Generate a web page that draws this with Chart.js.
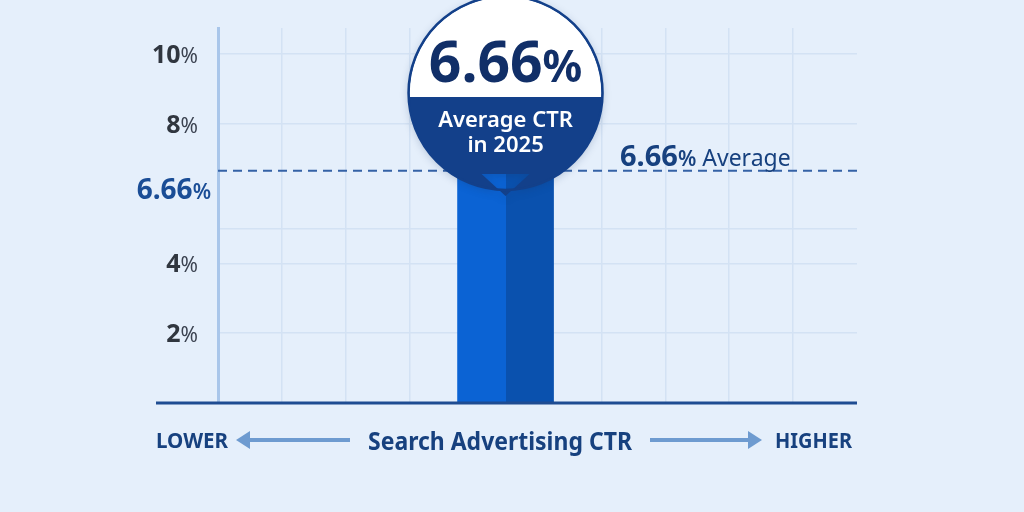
<!DOCTYPE html>
<html>
<head>
<meta charset="utf-8">
<script src="https://cdn.jsdelivr.net/npm/chart.js@4.4.1/dist/chart.umd.min.js"></script>
<style>
  html, body { margin: 0; padding: 0; background: #e5effb; }
  #wrap { width: 1024px; height: 512px; }
</style>
</head>
<body>
<div id="wrap"><canvas id="ctrChart" width="1024" height="512"></canvas></div>
<script>
// ==================== DATOS ====================
const categories   = ['', '', '', '', 'Average CTR in 2025', '', '', '', '', ''];
const ctrValues    = [null, null, null, null, 6.66, null, null, null, null, null];
const averageCtr   = 6.66;
const yTickLabels  = [2, 4, 8, 10];
const yGridValues  = [2, 4, 5, 8, 10];
const bubbleTitle  = ['Average CTR', 'in 2025'];
const axisTitle    = 'Search Advertising CTR';
const lowLabel     = 'LOWER';
const highLabel    = 'HIGHER';

// ==================== ESTILO ====================
const FONT      = '"Noto Sans", "Open Sans", sans-serif';
const BG        = '#e5effb';
const GRID      = '#d3e2f4';
const NAVY      = '#13408a';
const NAVY_TEXT = '#17417f';
const BAR_LEFT  = '#0b63d4';
const BAR_RIGHT = '#0a51ae';
const ARROW     = '#6e9bd0';

// texto con partes de distinto peso (número en negrita, % más ligero)
function drawParts(ctx, parts, x, y, align) {
  let total = 0;
  parts.forEach(p => { ctx.font = p.font; p.w = ctx.measureText(p.text).width; total += p.w; });
  let cx = align === 'right' ? x - total : align === 'center' ? x - total / 2 : x;
  ctx.textAlign = 'left';
  ctx.textBaseline = 'alphabetic';
  parts.forEach(p => {
    ctx.font = p.font;
    ctx.fillStyle = p.color;
    ctx.fillText(p.text, cx, y);
    cx += p.w;
  });
}

function drawArrow(ctx, x1, x2, y) {
  const dir = Math.sign(x2 - x1);
  ctx.strokeStyle = ARROW;
  ctx.fillStyle = ARROW;
  ctx.lineWidth = 4;
  ctx.beginPath();
  ctx.moveTo(x1, y);
  ctx.lineTo(x2 - dir * 10, y);
  ctx.stroke();
  ctx.beginPath();
  ctx.moveTo(x2, y);
  ctx.lineTo(x2 - dir * 14, y - 9);
  ctx.lineTo(x2 - dir * 14, y + 9);
  ctx.closePath();
  ctx.fill();
}

const ctrOverlay = {
  id: 'ctrOverlay',
  beforeDraw(chart) {
    const { ctx, width, height } = chart;
    ctx.save();
    ctx.fillStyle = BG;
    ctx.fillRect(0, 0, width, height);
    ctx.restore();
  },
  afterDatasetsDraw(chart) {
    const { ctx, chartArea, scales } = chart;
    const yAvg = scales.y.getPixelForValue(averageCtr);
    const y0   = scales.y.getPixelForValue(0);
    const barIndex = ctrValues.findIndex(v => v !== null);
    const bar  = chart.getDatasetMeta(0).data[barIndex];
    const cx   = bar.x;

    ctx.save();

    // línea promedio punteada
    ctx.strokeStyle = '#3462a6';
    ctx.lineWidth = 2;
    ctx.setLineDash([9, 6]);
    ctx.beginPath();
    ctx.moveTo(chartArea.left, yAvg);
    ctx.lineTo(chartArea.right, yAvg);
    ctx.stroke();
    ctx.setLineDash([]);

    // línea base
    ctx.strokeStyle = '#1e4c92';
    ctx.lineWidth = 3;
    ctx.beginPath();
    ctx.moveTo(156, y0);
    ctx.lineTo(chartArea.right, y0);
    ctx.stroke();

    // etiquetas eje Y
    yTickLabels.forEach(v => {
      const py = scales.y.getPixelForValue(v);
      drawParts(ctx, [
        { text: String(v), font: `700 25px ${FONT}`, color: '#30363f' },
        { text: '%',       font: `400 21px ${FONT}`, color: '#3b4250' }
      ], 198, py + 9, 'right');
    });
    drawParts(ctx, [
      { text: averageCtr.toFixed(2), font: `700 28px ${FONT}`, color: '#1a4d96' },
      { text: '%',                   font: `600 21px ${FONT}`, color: '#1a4d96' }
    ], 211, yAvg + 28, 'right');

    // etiqueta del promedio
    drawParts(ctx, [
      { text: averageCtr.toFixed(2), font: `700 29px ${FONT}`, color: NAVY_TEXT },
      { text: '%',                   font: `600 21px ${FONT}`, color: NAVY_TEXT },
      { text: ' Average',            font: `400 23px ${FONT}`, color: NAVY_TEXT }
    ], 620, yAvg - 5, 'left');

    // burbuja
    const r = 97, cy = chartArea.top + 65, tipY = cy + r + 6;
    const shape = () => {
      ctx.beginPath();
      ctx.arc(cx, cy, r, 0, Math.PI * 2);
      ctx.moveTo(cx - 24, cy + r - 16);
      ctx.lineTo(cx, tipY);
      ctx.lineTo(cx + 24, cy + r - 16);
      ctx.closePath();
    };
    ctx.save();
    ctx.shadowColor = 'rgba(20, 50, 100, 0.25)';
    ctx.shadowBlur = 8;
    ctx.shadowOffsetY = 2;
    ctx.fillStyle = NAVY;
    shape();
    ctx.fill();
    ctx.restore();

    ctx.save();
    ctx.beginPath();
    ctx.arc(cx, cy, r - 1, 0, Math.PI * 2);
    ctx.clip();
    ctx.fillStyle = '#ffffff';
    ctx.fillRect(cx - r, cy - r, r * 2, r + 4);
    ctx.restore();

    ctx.strokeStyle = NAVY;
    ctx.lineWidth = 2.5;
    ctx.beginPath();
    ctx.arc(cx, cy, r, 0, Math.PI * 2);
    ctx.stroke();

    drawParts(ctx, [
      { text: averageCtr.toFixed(2), font: `700 57px ${FONT}`, color: '#112f68' },
      { text: '%',                   font: `700 44px ${FONT}`, color: '#112f68' }
    ], cx, cy - 11, 'center');

    ctx.fillStyle = '#ffffff';
    ctx.font = `600 22px ${FONT}`;
    ctx.textAlign = 'center';
    ctx.fillText(bubbleTitle[0], cx, cy + 34);
    ctx.fillText(bubbleTitle[1], cx, cy + 59);

    // rótulos inferiores
    ctx.fillStyle = NAVY_TEXT;
    ctx.textBaseline = 'alphabetic';
    ctx.font = `700 22px ${FONT}`;
    ctx.textAlign = 'left';
    ctx.fillText(lowLabel, 156, 448, 72);
    ctx.textAlign = 'right';
    ctx.fillText(highLabel, 852, 448, 77);
    ctx.textAlign = 'center';
    ctx.font = `700 25px ${FONT}`;
    ctx.fillText(axisTitle, 500, 450, 264);

    drawArrow(ctx, 350, 236, 440);
    drawArrow(ctx, 650, 762, 440);

    ctx.restore();
  }
};

new Chart(document.getElementById('ctrChart'), {
  type: 'bar',
  data: {
    labels: categories,
    datasets: [{
      label: 'Search Advertising CTR',
      data: ctrValues,
      barThickness: 96,
      borderWidth: 0,
      backgroundColor: (c) => {
        const xs = c.chart.scales.x;
        if (!xs || !c.chart.chartArea) return BAR_LEFT;
        const px = xs.getPixelForValue(c.dataIndex);
        const g = c.chart.ctx.createLinearGradient(px - 48, 0, px + 48, 0);
        g.addColorStop(0, BAR_LEFT);
        g.addColorStop(0.5, BAR_LEFT);
        g.addColorStop(0.5, BAR_RIGHT);
        g.addColorStop(1, BAR_RIGHT);
        return g;
      }
    }]
  },
  options: {
    responsive: false,
    animation: false,
    layout: { padding: { left: 218, right: 167, top: 28, bottom: 109 } },
    plugins: {
      legend: { display: false },
      tooltip: { enabled: false }
    },
    scales: {
      x: {
        offset: true,
        grid: {
          offset: true,
          drawTicks: false,
          lineWidth: 1.5,
          // sin línea en los bordes del área
          color: (c) => (c.type !== 'tick' || c.index === 0) ? 'rgba(0,0,0,0)' : GRID
        },
        border: { display: false },
        ticks: { display: false }
      },
      y: {
        min: 0,
        max: 10.75,
        afterBuildTicks: (axis) => { axis.ticks = yGridValues.map(v => ({ value: v })); },
        grid: { drawTicks: false, lineWidth: 1.5, color: GRID },
        border: { display: true, color: '#a9c6ea', width: 3 },
        ticks: { display: false }
      }
    }
  },
  plugins: [ctrOverlay]
});
</script>
</body>
</html>
